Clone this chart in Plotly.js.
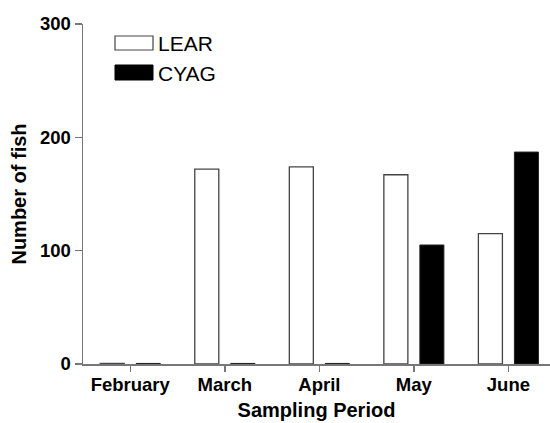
<!DOCTYPE html>
<html>
<head>
<meta charset="utf-8">
<script src="https://cdn.plot.ly/plotly-3.0.1.min.js"></script>
<style>
html,body{margin:0;padding:0;background:#fff;}
#chart{width:550px;height:423px;}
</style>
</head>
<body>
<div id="chart"></div>
<script>
// Data
const categories = ["February", "March", "April", "May", "June"];
const seriesNames = ["LEAR", "CYAG"];
const learValues = [0.5, 172, 174, 167, 115];
const cyagValues = [0.5, 0.5, 0.5, 105, 187];
const yTickValues = [0, 100, 200, 300];

const FONT = "Liberation Sans, Arial, Helvetica, sans-serif";

const traces = [
  {
    type: "bar", name: seriesNames[0], x: categories, y: learValues,
    marker: {color: "#ffffff", line: {color: "#444444", width: 1.3}},
    showlegend: false, hoverinfo: "x+y"
  },
  {
    type: "bar", name: seriesNames[1], x: categories, y: cyagValues,
    marker: {color: "#000000", line: {color: "#222222", width: 1}},
    showlegend: false, hoverinfo: "x+y"
  }
];

// legend drawn in paper coordinates (plot area: x 83..550, y 24..364)
function px2x(p){ return (p - 83) / 467; }
function px2y(p){ return (364 - p) / 340; }

const shapes = [
  {type: "rect", xref: "paper", yref: "paper",
   x0: px2x(115), x1: px2x(153), y0: px2y(50), y1: px2y(36),
   fillcolor: "#ffffff", line: {color: "#444444", width: 1.2}},
  {type: "rect", xref: "paper", yref: "paper",
   x0: px2x(115), x1: px2x(153), y0: px2y(80), y1: px2y(65),
   fillcolor: "#000000", line: {color: "#000000", width: 1}}
];

const annotations = [
  {xref: "paper", yref: "paper", x: px2x(156), y: px2y(43.5), text: seriesNames[0],
   showarrow: false, xanchor: "left", yanchor: "middle",
   font: {family: FONT, size: 21, color: "#000"}},
  {xref: "paper", yref: "paper", x: px2x(156), y: px2y(73), text: seriesNames[1],
   showarrow: false, xanchor: "left", yanchor: "middle",
   font: {family: FONT, size: 21, color: "#000"}}
];

const layout = {
  width: 550, height: 423,
  margin: {l: 83, r: 0, t: 24, b: 59, pad: 0},
  paper_bgcolor: "#ffffff", plot_bgcolor: "#ffffff",
  barmode: "group", bargap: 0.238, bargroupgap: 0.333,
  font: {family: FONT, color: "#000"},
  xaxis: {
    type: "category", range: [-0.5, 4.44],
    showline: true, linecolor: "#777777", linewidth: 1.5,
    ticks: "outside", ticklen: 6, tickwidth: 1.5, tickcolor: "#777777",
    ticklabelstandoff: -3,
    showgrid: false, zeroline: false,
    tickfont: {family: FONT, size: 18.5, weight: 700, color: "#000"},
    title: {text: "Sampling Period", standoff: 9,
            font: {family: FONT, size: 20, weight: 700, color: "#000"}},
    automargin: false, fixedrange: true
  },
  yaxis: {
    range: [0, 300], tickvals: yTickValues, ticktext: yTickValues.map(String),
    showline: true, linecolor: "#777777", linewidth: 1.5,
    ticks: "outside", ticklen: 7, tickwidth: 1.5, tickcolor: "#777777",
    showgrid: false, zeroline: false,
    tickfont: {family: FONT, size: 18.5, weight: 700, color: "#000"},
    title: {text: "Number of fish", standoff: 8,
            font: {family: FONT, size: 20, weight: 700, color: "#000"}},
    automargin: false, fixedrange: true
  },
  shapes: shapes,
  annotations: annotations,
  showlegend: false
};

Plotly.newPlot("chart", traces, layout, {displayModeBar: false, staticPlot: true});
</script>
</body>
</html>
